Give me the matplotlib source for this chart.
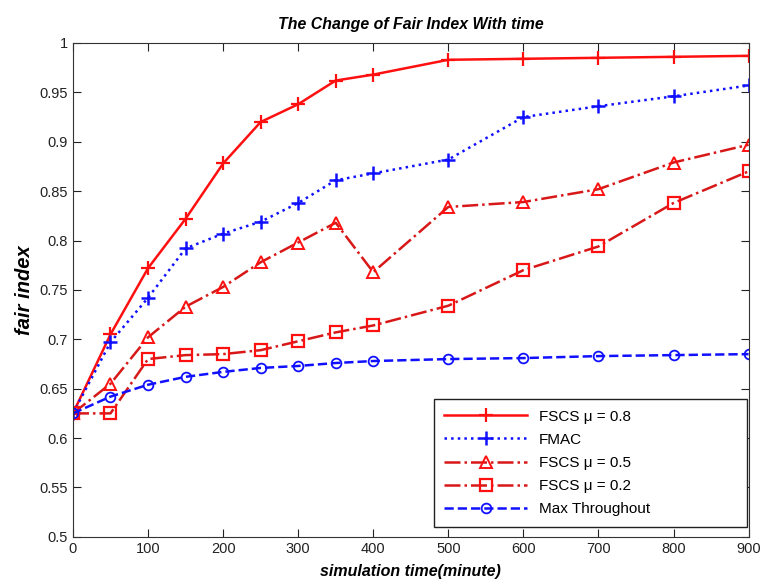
import matplotlib
matplotlib.use("Agg")
import matplotlib.pyplot as plt

# ---- data ----
time_min = [0, 50, 100, 150, 200, 250, 300, 350, 400, 500, 600, 700, 800, 900]
fscs_08 = [0.625, 0.705, 0.772, 0.822, 0.878, 0.920, 0.938, 0.962, 0.968,
           0.983, 0.984, 0.985, 0.986, 0.987]
fmac = [0.625, 0.697, 0.742, 0.792, 0.807, 0.819, 0.838, 0.861, 0.868,
        0.882, 0.925, 0.936, 0.946, 0.957]
fscs_05 = [0.625, 0.655, 0.702, 0.733, 0.753, 0.778, 0.798, 0.818, 0.768,
           0.834, 0.839, 0.852, 0.879, 0.897]
fscs_02 = [0.625, 0.625, 0.680, 0.684, 0.685, 0.689, 0.698, 0.707, 0.714,
           0.734, 0.770, 0.794, 0.838, 0.870]
max_thr = [0.625, 0.642, 0.654, 0.662, 0.667, 0.671, 0.673, 0.676, 0.678,
           0.680, 0.681, 0.683, 0.684, 0.685]

labels = ["FSCS \u03bc = 0.8", "FMAC", "FSCS \u03bc = 0.5", "FSCS \u03bc = 0.2",
          "Max Throughout"]
xticks = [0, 100, 200, 300, 400, 500, 600, 700, 800, 900]
yticks = [0.5, 0.55, 0.6, 0.65, 0.7, 0.75, 0.8, 0.85, 0.9, 0.95, 1.0]
ytick_labels = ["0.5", "0.55", "0.6", "0.65", "0.7", "0.75", "0.8", "0.85",
                "0.9", "0.95", "1"]

RED = "#ff1010"
DARKRED = "#d81818"
BLUE = "#1010ff"

plt.rcParams["font.family"] = ["Liberation Sans", "DejaVu Sans"]

fig = plt.figure(figsize=(7.6, 5.81), dpi=100)
ax = fig.add_axes([0.096, 0.076, 0.889, 0.850])

ax.plot(time_min, fscs_08, "-", color=RED, lw=1.8, marker="+", ms=10,
        mew=1.6, label=labels[0])
ax.plot(time_min, fmac, ":", color=BLUE, lw=1.8, marker="+", ms=10,
        mew=1.8, label=labels[1])
ax.plot(time_min, fscs_05, "-.", color=DARKRED, lw=1.8, marker="^", ms=9,
        mfc="none", mec=RED, mew=1.4, label=labels[2])
ax.plot(time_min, fscs_02, "-.", color=DARKRED, lw=1.8, marker="s", ms=8,
        mfc="none", mec=RED, mew=1.6, label=labels[3])
ax.plot(time_min, max_thr, "--", color=BLUE, lw=1.8, marker="o", ms=7,
        mfc="none", mec=BLUE, mew=1.3, label=labels[4])

ax.set_xlim(0, 900)
ax.set_ylim(0.5, 1.0)
ax.set_xticks(xticks)
ax.set_yticks(yticks)
ax.set_yticklabels(ytick_labels)
ax.tick_params(direction="in", top=True, right=True, length=6,
               labelsize=10.5, colors="#222222")
for sp in ax.spines.values():
    sp.set_color("#333333")

ax.set_title("The Change of Fair Index With time", fontsize=11.4,
             fontweight="bold", style="italic", pad=10)
ax.set_xlabel("simulation time(minute)", fontsize=11.5, fontweight="bold",
              style="italic", labelpad=6)
ax.set_ylabel("fair index", fontsize=14.5, fontweight="bold", style="italic",
              labelpad=4)

# MATLAB-style legend box: wide, with empty room right of the labels
leg = ax.legend(loc="lower left", bbox_to_anchor=(0.534, 0.02, 0.463, 0.261),
                mode="expand", fontsize=11, fancybox=False,
                edgecolor="#222222", framealpha=1, handlelength=5.4,
                borderaxespad=0, borderpad=0.7, labelspacing=0.6)
leg.get_frame().set_linewidth(1.0)

fig.savefig("out.png", dpi=100, facecolor="white")
